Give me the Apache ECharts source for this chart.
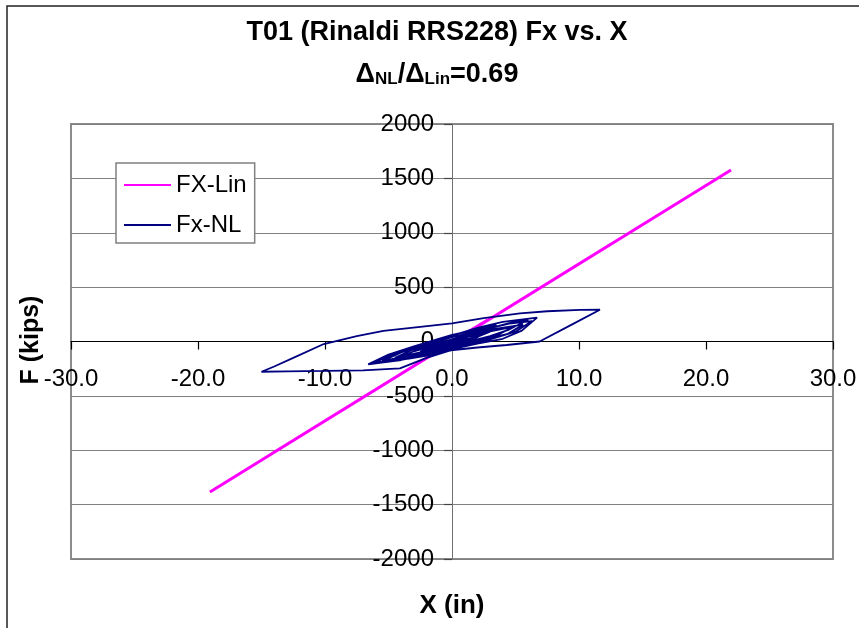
<!DOCTYPE html>
<html lang="en">
<head>
<meta charset="UTF-8">
<title>T01 Fx vs. X</title>
<style>
  html, body { margin: 0; padding: 0; background: #fff; }
  #main { width: 859px; height: 628px; }
</style>
</head>
<body>
<div id="main"></div>

<script src="https://cdn.jsdelivr.net/npm/echarts@6.0.0/dist/echarts.min.js"></script>
<script>
    // axis ranges
    var xMin = -30, xMax = 30, xStep = 10;
    var yMin = -2000, yMax = 2000, yStep = 500;

    // FX-Lin : linear response, x (in) / F (kips)
    var linX = [0, 2.8, -3.9, 6.1, -8.7, 12.4, -19.06, 21.97, -14.2, 10.5, -6.8, 4.6, -2.3, 0.9, 0];
    var linF = [0, 198, -290, 432, -636, 888, -1384, 1577, -1032, 750, -498, 324, -174, 57, -8];

    // Fx-NL : nonlinear hysteresis, x (in) / F (kips)
    var nlX = [0, 1.0, 1.5, 0.8, -0.5, -1.5, -0.8, 0.5, 2.5, 1.8, 0, -2.5, -1.6, 0,
        2, 4.8, 3.6, 1.5, 0, -2.5, -4.5, -3.2, -1, 1,
        3, 5.6, 4.4, 2, 0, -3, -5.5, -4, -2, 0,
        2.5, 4.5, 6.3, 5, 3, 0, -3, -6.2, -4.5, -2.5, 0,
        2, 4, 6.7, 5.5, 4, 2, 0, -2, -4, -6.6, -5, -3, 0, 2, 3.5,
        2, 0, -2, -4.1, -7, -10, -13, -15,
        -14, -12.5, -10.1, -7.5, -5.4, -2.5, 0, 2.5, 5.35, 7.5, 10.1, 11.65,
        9.5, 6.9, 4.3, 2, 0.1, -1.5, -3.5,
        -2, 0, 2, 4.5, 6, 4.5, 3, 0, -2.5, -4.5, -3, 0, 2, 3, 1.5, 0, -1.5, -0.5, 0.5];
    var nlF = [0, 40, 55, 15, -30, -60, -25, 20, 85, 40, -20, -95, -45, 15,
        70, 135, 60, 0, -40, -100, -150, -80, -10, 50,
        110, 155, 70, 5, -50, -120, -180, -100, -30, 40,
        110, 165, 188, 90, 20, -60, -140, -200, -110, -35, 55,
        125, 180, 219, 100, 25, -20, -70, -125, -170, -210, -120, -45, 60, 110, 150,
        40, -78, -150, -247, -266, -271, -274, -278,
        -230, -150, -23, 50, 97, 135, 167, 215, 259, 278, 290, 292,
        160, 0, -32, -55, -78, -120, -160,
        -70, 20, 90, 170, 200, 110, 50, -40, -110, -165, -90, 10, 60, 90, 20, -25, -60, -15, 20];

    function zip(a, b) {
        var out = [];
        for (var i = 0; i < a.length; i++) out.push([a[i], b[i]]);
        return out;
    }

    var FONT = 'Liberation Sans, Arial, sans-serif';

    // plot box in pixels, axes cross at (0,0)
    var gridLeft = 71, gridRight = 26, gridTop = 124, gridBottom = 69;
    var plotW = 859 - gridLeft - gridRight, plotH = 628 - gridTop - gridBottom;
    var yAxisOffset = -plotW * (0 - xMin) / (xMax - xMin);
    var xAxisOffset = -plotH * (0 - yMin) / (yMax - yMin);

    var myChart = echarts.init(document.getElementById('main'));
    var option = {
        backgroundColor: '#fff',
        animation: false,
        grid: {
            left: gridLeft, right: gridRight, top: gridTop, bottom: gridBottom,
            containLabel: false, outerBoundsMode: 'none',
            show: true, borderColor: '#8c8c8c', borderWidth: 2, backgroundColor: 'transparent'
        },
        legend: {
            data: ['FX-Lin', 'Fx-NL'],
            orient: 'vertical',
            left: 116, top: 163,
            padding: [10, 8, 6, 8],
            icon: 'rect',
            itemWidth: 47, itemHeight: 2, itemGap: 16,
            backgroundColor: '#fff',
            borderColor: '#808080', borderWidth: 1.5,
            textStyle: {fontSize: 24, color: '#000', fontFamily: FONT, lineHeight: 24}
        },
        xAxis: {
            type: 'value', min: xMin, max: xMax, interval: xStep,
            position: 'bottom', offset: xAxisOffset,
            axisLine: {onZero: false, lineStyle: {color: '#000', width: 1}},
            axisTick: {show: true, length: 8, lineStyle: {color: '#000', width: 1.2}},
            axisLabel: {
                fontSize: 24, color: '#000', fontFamily: FONT, margin: 26,
                showMinLabel: true, showMaxLabel: true,
                formatter: function (v) { return v.toFixed(1); }
            },
            splitLine: {show: false}
        },
        yAxis: {
            type: 'value', min: yMin, max: yMax, interval: yStep,
            position: 'left', offset: yAxisOffset,
            axisLine: {onZero: false, show: true, lineStyle: {color: '#707070', width: 1}},
            axisTick: {show: true, length: 8, lineStyle: {color: '#444', width: 1.2}},
            axisLabel: {
                fontSize: 24, color: '#000', fontFamily: FONT, margin: 18,
                showMinLabel: true, showMaxLabel: true,
                formatter: function (v) { return String(v); }
            },
            splitLine: {show: true, lineStyle: {color: '#808080', width: 1}}
        },
        series: [
            {
                name: 'FX-Lin', type: 'line', data: zip(linX, linF),
                symbol: 'none', lineStyle: {color: '#ff00ff', width: 3}, itemStyle: {color: '#ff00ff'}
            },
            {
                name: 'Fx-NL', type: 'line', data: zip(nlX, nlF),
                symbol: 'none', lineStyle: {color: '#000080', width: 1.8}, itemStyle: {color: '#000080'}
            }
        ],
        graphic: [
            {
                type: 'rect', shape: {x: 7, y: 6, width: 900, height: 700},
                style: {fill: 'none', stroke: '#222', lineWidth: 1.5}, silent: true
            },
            {
                type: 'text', x: 437, y: 33,
                style: {
                    text: 'T01 (Rinaldi RRS228) Fx vs. X', fill: '#000',
                    fontSize: 27, fontWeight: 'bold', fontFamily: FONT,
                    align: 'center', verticalAlign: 'middle'
                }
            },
            {
                type: 'text', x: 437, y: 73,
                style: {
                    text: '{d|Δ}{s|NL}{d|/Δ}{s|Lin}{d|=0.69}', fill: '#000',
                    align: 'center', verticalAlign: 'middle',
                    rich: {
                        d: {fontSize: 27, fontWeight: 'bold', fontFamily: FONT, lineHeight: 30, verticalAlign: 'bottom'},
                        s: {fontSize: 17, fontWeight: 'bold', fontFamily: FONT, lineHeight: 22, verticalAlign: 'bottom'}
                    }
                }
            },
            {
                type: 'text', x: 452, y: 606,
                style: {
                    text: 'X (in)', fill: '#000', fontSize: 26, fontWeight: 'bold', fontFamily: FONT,
                    align: 'center', verticalAlign: 'middle'
                }
            },
            {
                type: 'text', x: 31, y: 340, rotation: Math.PI / 2,
                style: {
                    text: 'F (kips)', fill: '#000', fontSize: 25, fontWeight: 'bold', fontFamily: FONT,
                    align: 'center', verticalAlign: 'middle'
                }
            }
        ]
    };

    myChart.setOption(option);
</script>
</body>
</html>
